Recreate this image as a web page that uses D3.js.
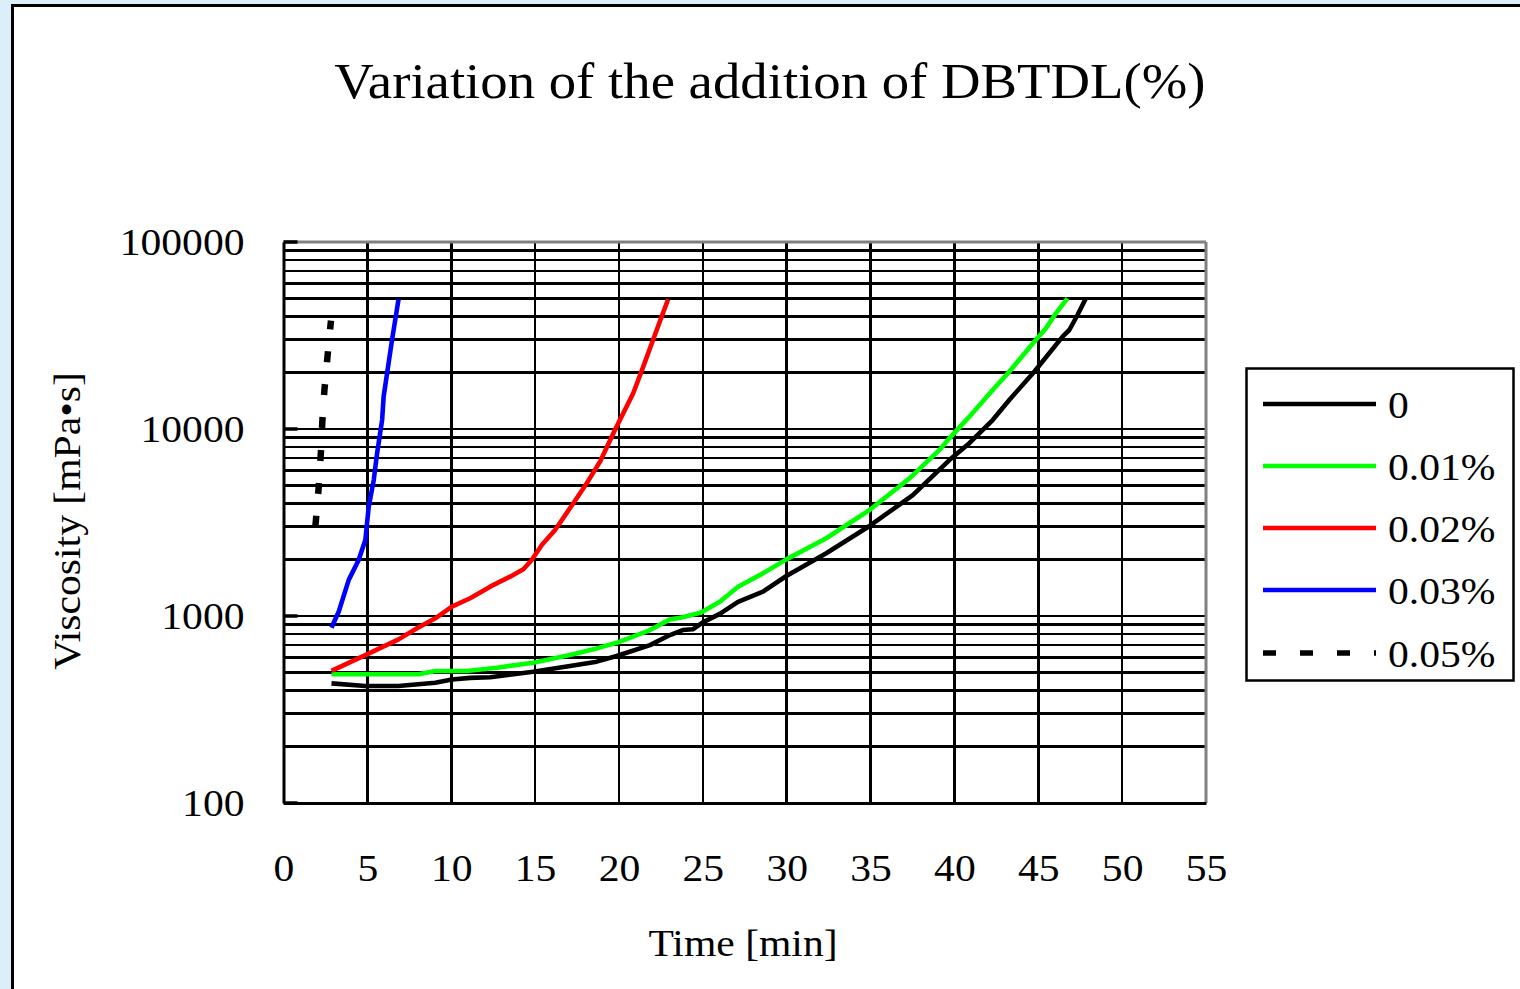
<!DOCTYPE html>
<html><head><meta charset="utf-8">
<script src="https://cdn.jsdelivr.net/npm/d3@7"></script>
<style>
html,body{margin:0;padding:0;background:#ddeefb;overflow:hidden;}
svg{display:block;}
text{font-family:"Liberation Serif","Times New Roman",serif;fill:#000;}
</style></head>
<body>
<svg id="chart" width="1520" height="989"></svg>
<script>
// ---- data (time in min, viscosity in mPa·s) ----
const seriesNames = ["0", "0.01%", "0.02%", "0.03%", "0.05%"];
const seriesColors = ["#000000", "#00ff00", "#ff0000", "#0000ff", "#000000"];
const s0_time = [2.86,4.88,6.85,9.05,10.04,11.13,12.32,14.88,17.08,18.67,19.86,21.85,23.04,23.8,24.4,25.0,26.01,27.1,28.59,29.98,32.36,34.94,37.52,39.7,40.89,42.28,43.27,44.76,46.45,46.85,47.34,47.84];
const s0_visc = [436,422,422,440,458,467,470,503,540,570,611,699,791,841,849,925,1026,1191,1349,1636,2164,3030,4433,6823,8394,11170,14290,20250,31180,33840,40700,50000];
const s1_time = [2.86,4.88,6.86,8.05,9.05,10.04,10.93,12.72,14.88,17.08,18.67,19.86,21.85,23.04,23.8,24.9,26.01,27.1,28.59,29.98,32.36,34.94,37.32,39.11,39.7,40.89,42.28,43.27,44.76,45.46,46.05,46.74];
const s1_visc = [488,488,488,488,508,508,508,529,563,618,671,719,841,959,984,1045,1191,1435,1692,2008,2604,3690,5446,7727,8913,11640,16180,20250,29290,34540,41570,50000];
const s2_time = [2.86,4.88,6.86,7.96,9.05,10.04,11.13,12.32,13.51,14.3,14.8,15.4,16.19,17.28,18.08,18.87,19.76,20.85,21.45,22.14,22.93];
const s2_visc = [509,618,750,859,972,1122,1244,1435,1623,1777,1992,2397,2885,4007,5128,6688,9881,15530,21540,31830,49430];
const s3_time = [2.86,3.29,3.89,4.48,4.88,5.08,5.38,5.58,5.88,5.97,6.47,6.86];
const s3_visc = [865,1054,1560,1992,2547,3837,5333,7413,11170,14890,29920,49430];
const s4_time = [1.9,2.1,2.23,2.32,2.44,2.62,2.83];
const s4_visc = [3000,4900,7530,11170,16190,24270,38000];
const xTicks = [0,5,10,15,20,25,30,35,40,45,50,55];
const yTicks = [100,1000,10000,100000];
const titleText = "Variation of the addition of DBTDL(%)";
const xTitle = "Time [min]";
const yTitle = "Viscosity [mPa\u2022s]";

const seriesTimes = [s0_time, s1_time, s2_time, s3_time, s4_time];
const seriesVisc = [s0_visc, s1_visc, s2_visc, s3_visc, s4_visc];

// ---- layout ----
const L = 283.5, R = 1206, T = 242, B = 803;
const svg = d3.select("#chart");
const STRETCH = 1.095;
function stretch(sel){
  sel.each(function(){
    const l = this.getComputedTextLength();
    this.setAttribute("textLength", l*STRETCH);
    this.setAttribute("lengthAdjust","spacingAndGlyphs");
  });
}

// panel
svg.append("rect").attr("x",12.5).attr("y",5.5).attr("width",1600).attr("height",1100)
  .attr("fill","#fff").attr("stroke","#000").attr("stroke-width",3);

const x = d3.scaleLinear().domain([0,55]).range([L,R]);
const y = d3.scaleLog().domain([100,100000]).range([B,T]);

// grid horizontal
const hGrid = [];
[100,1000,10000].forEach(d=>{ for(let k=1;k<=9;k++) hGrid.push(d*k); });
hGrid.push(100000);
const g = svg.append("g").attr("shape-rendering","crispEdges");
g.selectAll("line.h").data(hGrid.filter(v=>v>100 && v<100000)).join("line")
  .attr("x1",L).attr("x2",R).attr("y1",d=>y(d)).attr("y2",d=>y(d))
  .attr("stroke","#000").attr("stroke-width",2.6);
g.selectAll("line.v").data(xTicks.filter(v=>v>0 && v<55)).join("line")
  .attr("x1",d=>x(d)).attr("x2",d=>x(d)).attr("y1",T).attr("y2",B)
  .attr("stroke","#000").attr("stroke-width",2.6);

// frame: top & right gray, left & bottom black
svg.append("line").attr("x1",L).attr("x2",R).attr("y1",T).attr("y2",T).attr("stroke","#808080").attr("stroke-width",3);
svg.append("line").attr("x1",R).attr("x2",R).attr("y1",T).attr("y2",B).attr("stroke","#808080").attr("stroke-width",3);
// inside major ticks on y
svg.selectAll("line.mt").data(yTicks).join("line")
  .attr("x1",L).attr("x2",L+14).attr("y1",d=>y(d)).attr("y2",d=>y(d))
  .attr("stroke","#000").attr("stroke-width",3.5);

// axes
const xAxis = svg.append("g").attr("transform",`translate(0,${B})`)
  .call(d3.axisBottom(x).tickValues(xTicks).tickSize(0).tickFormat(d3.format("d")));
xAxis.select(".domain").attr("stroke","#000").attr("stroke-width",3);
xAxis.selectAll("text").attr("y",78).attr("dy",0).style("font-size","38px")
  .style("font-family",'"Liberation Serif",serif');
const yAxis = svg.append("g").attr("transform",`translate(${L},0)`)
  .call(d3.axisLeft(y).tickValues(yTicks).tickSize(0).tickFormat(d3.format("d")));
yAxis.select(".domain").attr("stroke","#000").attr("stroke-width",3);
yAxis.selectAll("text").attr("x",-39).attr("dy","0.34em").style("font-size","38px")
  .style("font-family",'"Liberation Serif",serif');
stretch(xAxis.selectAll("text"));
stretch(yAxis.selectAll("text"));

// series
const line = d3.line().x(d=>x(d[0])).y(d=>y(d[1]));
seriesNames.forEach((name,i)=>{
  const pts = seriesTimes[i].map((t,j)=>[t, seriesVisc[i][j]]);
  const p = svg.append("path").datum(pts).attr("d",line)
    .attr("fill","none").attr("stroke",seriesColors[i])
    .attr("stroke-width", i===4 ? 6.5 : 4.6).attr("stroke-linejoin","round");
  if(i===4) p.attr("stroke-dasharray","11,22");
});

// title
const tt = svg.append("text").attr("x",770).attr("y",98).attr("text-anchor","middle")
  .style("font-size","50px").text(titleText);
stretch(tt);
const xt = svg.append("text").attr("x",743).attr("y",956).attr("text-anchor","middle")
  .style("font-size","38px").text(xTitle);
stretch(xt);
const yt = svg.append("text").attr("transform","translate(80,521) rotate(-90)").attr("text-anchor","middle")
  .style("font-size","38px").text(yTitle);
stretch(yt);

// legend
const lg = svg.append("g");
lg.append("rect").attr("x",1246.5).attr("y",368.5).attr("width",267).attr("height",312)
  .attr("fill","#fff").attr("stroke","#000").attr("stroke-width",2.5);
const ly = [404,466,528,590,653];
seriesNames.forEach((name,i)=>{
  const l = lg.append("line").attr("x1",1263).attr("x2",1376).attr("y1",ly[i]).attr("y2",ly[i])
    .attr("stroke",seriesColors[i]).attr("stroke-width", i===4 ? 5.5 : 4.5);
  if(i===4) l.attr("stroke-dasharray","13,24");
  const t = lg.append("text").attr("x",1388).attr("y",ly[i]+13.5).style("font-size","38px").text(name);
  stretch(t);
});
</script>
</body></html>
